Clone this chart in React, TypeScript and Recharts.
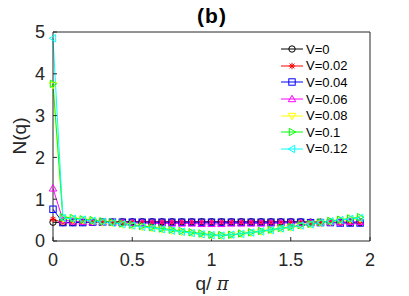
import React from "react";
import { LineChart, Line, XAxis, YAxis } from "recharts";

// q/pi sample points (32 wave vectors)
const qOverPi = [
  0, 0.0625, 0.125, 0.1875, 0.25, 0.3125, 0.375, 0.4375, 0.5, 0.5625, 0.625, 0.6875,
  0.75, 0.8125, 0.875, 0.9375, 1, 1.0625, 1.125, 1.1875, 1.25, 1.3125, 1.375, 1.4375,
  1.5, 1.5625, 1.625, 1.6875, 1.75, 1.8125, 1.875, 1.9375,
];

const nV0 = [
  0.45, 0.44, 0.44, 0.45, 0.45, 0.45, 0.45, 0.46, 0.46, 0.46, 0.46, 0.46, 0.46, 0.46, 0.46, 0.46,
  0.46, 0.46, 0.46, 0.46, 0.46, 0.46, 0.46, 0.46, 0.46, 0.46, 0.45, 0.45, 0.45, 0.45, 0.44, 0.44,
];
const nV002 = [
  0.52, 0.44, 0.44, 0.45, 0.45, 0.45, 0.46, 0.46, 0.46, 0.46, 0.46, 0.46, 0.46, 0.46, 0.46, 0.46,
  0.46, 0.46, 0.46, 0.46, 0.46, 0.46, 0.46, 0.46, 0.46, 0.45, 0.45, 0.45, 0.45, 0.44, 0.44, 0.44,
];
const nV004 = [
  0.76, 0.44, 0.44, 0.44, 0.45, 0.45, 0.45, 0.45, 0.45, 0.45, 0.45, 0.45, 0.45, 0.45, 0.45, 0.45,
  0.45, 0.45, 0.45, 0.45, 0.45, 0.45, 0.45, 0.45, 0.45, 0.45, 0.44, 0.44, 0.44, 0.43, 0.43, 0.43,
];
const nV006 = [
  1.26, 0.5, 0.47, 0.46, 0.45, 0.45, 0.44, 0.44, 0.43, 0.43, 0.42, 0.42, 0.42, 0.42, 0.42, 0.41,
  0.41, 0.41, 0.42, 0.42, 0.42, 0.42, 0.42, 0.43, 0.43, 0.43, 0.44, 0.44, 0.45, 0.45, 0.46, 0.46,
];
const nV008 = [
  3.73, 0.53, 0.51, 0.49, 0.47, 0.44, 0.42, 0.39, 0.36, 0.33, 0.3, 0.27, 0.24, 0.21, 0.18, 0.15,
  0.13, 0.12, 0.14, 0.16, 0.19, 0.22, 0.25, 0.29, 0.32, 0.36, 0.39, 0.43, 0.46, 0.49, 0.51, 0.53,
];
const nV01 = [
  3.76, 0.57, 0.55, 0.52, 0.5, 0.47, 0.45, 0.42, 0.39, 0.36, 0.33, 0.3, 0.27, 0.24, 0.21, 0.18,
  0.15, 0.14, 0.15, 0.18, 0.21, 0.24, 0.27, 0.31, 0.34, 0.38, 0.41, 0.45, 0.48, 0.51, 0.54, 0.57,
];
const nV012 = [
  4.85, 0.55, 0.53, 0.51, 0.48, 0.46, 0.43, 0.4, 0.37, 0.34, 0.31, 0.28, 0.25, 0.22, 0.19, 0.16,
  0.14, 0.13, 0.15, 0.17, 0.2, 0.23, 0.26, 0.3, 0.33, 0.37, 0.4, 0.44, 0.47, 0.5, 0.53, 0.55,
];

const xTicks = [0, 0.5, 1, 1.5, 2];
const yTicks = [0, 1, 2, 3, 4, 5];

type Shape = "circle" | "star" | "square" | "up" | "down" | "right" | "left";

const series: { key: string; label: string; color: string; shape: Shape; values: number[] }[] = [
  { key: "v0", label: "V=0", color: "#000000", shape: "circle", values: nV0 },
  { key: "v002", label: "V=0.02", color: "#ff0000", shape: "star", values: nV002 },
  { key: "v004", label: "V=0.04", color: "#0000ff", shape: "square", values: nV004 },
  { key: "v006", label: "V=0.06", color: "#ff00ff", shape: "up", values: nV006 },
  { key: "v008", label: "V=0.08", color: "#ffff00", shape: "down", values: nV008 },
  { key: "v01", label: "V=0.1", color: "#00ff00", shape: "right", values: nV01 },
  { key: "v012", label: "V=0.12", color: "#00ffff", shape: "left", values: nV012 },
];

const data = qOverPi.map((q, i) => {
  const row: Record<string, number> = { q };
  series.forEach((s) => (row[s.key] = s.values[i]));
  return row;
});

// ─── Markers ────────────────────────────────────────────────────────────────

function Marker({ cx, cy, shape, color }: { cx: number; cy: number; shape: Shape; color: string }) {
  const r = 3.2;
  const common = { fill: "none", stroke: color, strokeWidth: 1 };
  switch (shape) {
    case "circle":
      return <circle cx={cx} cy={cy} r={r} {...common} />;
    case "square":
      return <rect x={cx - r} y={cy - r} width={2 * r} height={2 * r} {...common} />;
    case "up":
      return <polygon points={`${cx},${cy - r - 0.5} ${cx + r + 0.5},${cy + r - 0.5} ${cx - r - 0.5},${cy + r - 0.5}`} {...common} />;
    case "down":
      return <polygon points={`${cx},${cy + r + 0.5} ${cx + r + 0.5},${cy - r + 0.5} ${cx - r - 0.5},${cy - r + 0.5}`} {...common} />;
    case "right":
      return <polygon points={`${cx + r + 0.5},${cy} ${cx - r + 0.5},${cy - r - 0.5} ${cx - r + 0.5},${cy + r + 0.5}`} {...common} />;
    case "left":
      return <polygon points={`${cx - r - 0.5},${cy} ${cx + r - 0.5},${cy - r - 0.5} ${cx + r - 0.5},${cy + r + 0.5}`} {...common} />;
    case "star": {
      const d = r * 0.75;
      return (
        <g stroke={color} strokeWidth={1}>
          <line x1={cx - r} y1={cy} x2={cx + r} y2={cy} />
          <line x1={cx} y1={cy - r} x2={cx} y2={cy + r} />
          <line x1={cx - d} y1={cy - d} x2={cx + d} y2={cy + d} />
          <line x1={cx - d} y1={cy + d} x2={cx + d} y2={cy - d} />
        </g>
      );
    }
  }
  return null;
}

const makeDot = (shape: Shape, color: string, key: string) => (p: any) => (
  <Marker key={`${key}-${p.index}`} cx={p.cx} cy={p.cy} shape={shape} color={color} />
);

// ─── Main ───────────────────────────────────────────────────────────────────

const axisColor = "#262626";
const font = "'Liberation Sans', Arial, sans-serif";

export default function App() {
  return (
    <div style={{ position: "absolute", left: 0, top: 0, width: 409, height: 296, background: "#fff", fontFamily: font }}>
      <LineChart width={409} height={296} data={data} margin={{ top: 31, right: 38, bottom: 54, left: 0 }}>
        <XAxis
          xAxisId="b"
          dataKey="q"
          type="number"
          domain={[0, 2]}
          ticks={xTicks}
          height={1}
          stroke={axisColor}
          tickSize={-4}
          tickMargin={16}
          tick={{ fontSize: 18, fill: axisColor, fontFamily: font }}
        />
        <XAxis
          xAxisId="t"
          orientation="top"
          dataKey="q"
          type="number"
          domain={[0, 2]}
          ticks={xTicks}
          height={1}
          stroke={axisColor}
          tickSize={-4}
          tick={false}
        />
        <YAxis
          yAxisId="l"
          domain={[0, 5]}
          ticks={yTicks}
          width={53}
          stroke={axisColor}
          tickSize={-4}
          tickMargin={12}
          tick={{ fontSize: 18, fill: axisColor, fontFamily: font }}
        />
        <YAxis
          yAxisId="r"
          orientation="right"
          domain={[0, 5]}
          ticks={yTicks}
          width={1}
          stroke={axisColor}
          tickSize={-4}
          tick={false}
        />
        {series.map((s) => (
          <Line
            key={s.key}
            xAxisId="b"
            yAxisId="l"
            dataKey={s.key}
            stroke={s.color}
            strokeWidth={1}
            dot={makeDot(s.shape, s.color, s.key)}
            activeDot={false}
            isAnimationActive={false}
          />
        ))}
      </LineChart>

      {/* title and axis labels */}
      <div style={{ position: "absolute", left: 0, width: 424, top: 4, textAlign: "center", fontSize: 21, fontWeight: "bold", letterSpacing: 1, color: "#000" }}>
        (b)
      </div>
      <div style={{ position: "absolute", left: 0, width: 424, top: 273, textAlign: "center", fontSize: 19, color: axisColor }}>
        q/ <span style={{ fontStyle: "italic", fontFamily: "'DejaVu Serif', serif", fontSize: 18 }}>π</span>
      </div>
      <div
        style={{
          position: "absolute",
          left: 20,
          top: 136,
          transform: "translate(-50%, -50%) rotate(-90deg)",
          fontSize: 19,
          color: axisColor,
          whiteSpace: "nowrap",
        }}
      >
        N(q)
      </div>

      {/* legend */}
      <div style={{ position: "absolute", left: 278, top: 41, fontSize: 13, color: "#000" }}>
        {series.map((s) => (
          <div key={s.key} style={{ display: "flex", alignItems: "center", height: 16.6 }}>
            <svg width={28} height={12} style={{ marginRight: 0 }}>
              <line x1={3} y1={6} x2={25} y2={6} stroke={s.color} strokeWidth={1} />
              <Marker cx={14} cy={6} shape={s.shape} color={s.color} />
            </svg>
            <span>{s.label}</span>
          </div>
        ))}
      </div>
    </div>
  );
}
